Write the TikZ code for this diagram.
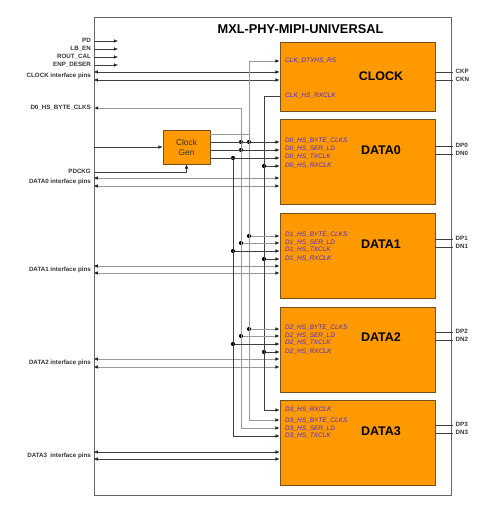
\documentclass[tikz,border=0pt]{standalone}
\usepackage{fontspec}
\setmainfont{Liberation Sans}
\usepackage{xcolor}
\usetikzlibrary{arrows.meta, positioning}

\definecolor{blkorange}{RGB}{255,153,0}
\definecolor{blkedge}{RGB}{120,80,30}
\definecolor{portblue}{RGB}{70,40,215}

\begin{document}
\begin{tikzpicture}[
    x=1pt, y=-1pt,
    >={Latex[length=4.2pt,width=3.6pt,color=black!85]},
    chipframe/.style={rectangle, draw=black!60, line width=0.8pt, inner sep=0pt, minimum width=357pt, minimum height=478pt},
    block/.style={rectangle, draw=blkedge, line width=0.7pt, fill=blkorange, minimum width=155pt, minimum height=85pt, inner sep=0pt},
    cgenbox/.style={rectangle, draw=blkedge, line width=0.7pt, fill=blkorange, minimum width=47pt, minimum height=34pt, align=center, text=black!80, font=\fontsize{8.4}{10}\selectfont},
    blkname/.style={font=\fontsize{12.5}{14}\selectfont\bfseries},
    port/.style={anchor=west, inner sep=0pt, text=portblue, font=\fontsize{6.5}{7}\selectfont\itshape, text height=4.7pt, text depth=1pt},
    pinl/.style={anchor=east, inner sep=3pt, text=black!80, font=\fontsize{6.2}{7}\selectfont\bfseries, text height=4.5pt, text depth=0.9pt},
    pinr/.style={anchor=west, inner sep=2pt, text=black!80, font=\fontsize{6.2}{7}\selectfont\bfseries, text height=4.5pt, text depth=0.9pt},
    wire/.style={draw=black!75, line width=0.6pt},
    bus/.style={draw=black!40, line width=0.9pt},
    dot/.style={circle, fill=black, inner sep=0pt, minimum size=4.2pt}
]
\useasboundingbox (0,0) rectangle (480,505);

% Frame and title
\node[chipframe] (chip) at (272.5,256.5) {};
\node[font=\fontsize{12.8}{14}\selectfont\bfseries] (title) at (300.5,29) {MXL-PHY-MIPI-UNIVERSAL};

% Lanes
\node[block, minimum height=69pt] (clock) at (357.5,76.5) {};
\node[block, below=8pt of clock] (d0) {};
\node[block, below=8pt of d0] (d1) {};
\node[block, below=8pt of d1] (d2) {};
\node[block, below=8pt of d2] (d3) {};

\node[blkname] (clockname) at ([xshift=23.5pt]clock.center) {CLOCK};
\node[blkname] (d0name) at ([xshift=23.5pt,yshift=12.5pt]d0.center) {DATA0};
\node[blkname] (d1name) at ([xshift=23.5pt,yshift=12pt]d1.center) {DATA1};
\node[blkname] (d2name) at ([xshift=23.5pt,yshift=12pt]d2.center) {DATA2};
\node[blkname] (d3name) at ([xshift=23.5pt,yshift=12pt]d3.center) {DATA3};

% Clock generator
\node[cgenbox] (cgen) at (186.5,147) {Clock\\Gen};

% Lane ports
\node[port] (pclkrs) at (285,61) {CLK\_DTXHS\_RS};
\node[port] (pclkrx) at (285,96) {CLK\_HS\_RXCLK};
\node[port] (pd0byte) at (285,140.5) {D0\_HS\_BYTE\_CLKS};
\node[port] (pd0ser) at (285,148.5) {D0\_HS\_SER\_LD};
\node[port] (pd0tx) at (285,156.5) {D0\_HS\_TXCLK};
\node[port] (pd0rx) at (285,165.5) {D0\_HS\_RXCLK};
\node[port] (pd1byte) at (285,235) {D1\_HS\_BYTE\_CLKS};
\node[port] (pd1ser) at (285,242.5) {D1\_HS\_SER\_LD};
\node[port] (pd1tx) at (285,250) {D1\_HS\_TXCLK};
\node[port] (pd1rx) at (285,258.5) {D1\_HS\_RXCLK};
\node[port] (pd2byte) at (285,328) {D2\_HS\_BYTE\_CLKS};
\node[port] (pd2ser) at (285,335.5) {D2\_HS\_SER\_LD};
\node[port] (pd2tx) at (285,343) {D2\_HS\_TXCLK};
\node[port] (pd2rx) at (285,351.5) {D2\_HS\_RXCLK};
\node[port] (pd3rx) at (285,410) {D3\_HS\_RXCLK};
\node[port] (pd3byte) at (285,421) {D3\_HS\_BYTE\_CLKS};
\node[port] (pd3ser) at (285,429) {D3\_HS\_SER\_LD};
\node[port] (pd3tx) at (285,436) {D3\_HS\_TXCLK};

% Chip pins, left
\node[pinl] (pd) at (94,41) {PD};
\node[pinl] (lben) at (94,49) {LB\_EN};
\node[pinl] (routcal) at (94,57) {ROUT\_CAL};
\node[pinl] (enpdeser) at (94,65) {ENP\_DESER};
\node[pinl] (clkpins) at (94,76) {CLOCK interface pins};
\node[pinl] (d0byte) at (94,108) {D0\_HS\_BYTE\_CLKS};
\node[pinl] (pdckg) at (94,172) {PDCKG};
\node[pinl] (d0pins) at (94,182) {DATA0 interface pins};
\node[pinl] (d1pins) at (94,270) {DATA1 interface pins};
\node[pinl] (d2pins) at (94,363) {DATA2 interface pins};
\node[pinl] (d3pins) at (94,456) {DATA3\ \ interface pins};

% Junctions and corners
\node[dot] (j0byte) at (241,142) {};
\node[dot] (j0byteb) at (249,142) {};
\node[dot] (j0ser) at (241,150) {};
\node[dot] (j0tx) at (233,158) {};
\node[dot] (j0rx) at (264,166) {};
\node[dot] (j1byte) at (249,236) {};
\node[dot] (j1ser) at (241,243) {};
\node[dot] (j1tx) at (233,251) {};
\node[dot] (j1rx) at (264,259) {};
\node[dot] (j2byte) at (249,329) {};
\node[dot] (j2ser) at (241,336) {};
\node[dot] (j2tx) at (233,344) {};
\node[dot] (j2rx) at (264,352) {};
\coordinate (crs) at (249,61);
\coordinate (crx) at (264,96);
\coordinate (c3rx) at (264,410);
\coordinate (c3byte) at (249,420);
\coordinate (c3ser) at (241,428);
\coordinate (c3tx) at (233,436);

% Control inputs
\draw[wire,->] (pd.east) -- ++(24,0);
\draw[wire,->] (lben.east) -- ++(24,0);
\draw[wire,->] (routcal.east) -- ++(24,0);
\draw[wire,->] (enpdeser.east) -- ++(24,0);

% Interface pins
\draw[wire,<->] (chip.west |- 0,72) -- (clock.west |- 0,72);
\draw[wire,<->] (chip.west |- 0,80) -- (clock.west |- 0,80);
\draw[bus,<->] (chip.west |- 0,178) -- (d0.west |- 0,178);
\draw[bus,<->] (chip.west |- 0,186) -- (d0.west |- 0,186);
\draw[bus,<->] (chip.west |- 0,266) -- (d1.west |- 0,266);
\draw[bus,<->] (chip.west |- 0,273) -- (d1.west |- 0,273);
\draw[bus,<->] (chip.west |- 0,359) -- (d2.west |- 0,359);
\draw[bus,<->] (chip.west |- 0,367) -- (d2.west |- 0,367);
\draw[wire,<->] (chip.west |- 0,452) -- (d3.west |- 0,452);
\draw[wire,<->] (chip.west |- 0,459) -- (d3.west |- 0,459);

% Clock generator in and out
\draw[wire,->] (chip.west |- cgen.west) -- (cgen.west);
\draw[wire,->] (pdckg.east) -| (cgen.south);
\draw[bus,->] ([yshift=13pt]cgen.east) -| (crs) -- (crs -| clock.west);
\draw[bus,->] (crs) -- (c3byte) -- (c3byte -| d3.west);
\draw[bus,<->] (d0byte.east) -| (c3ser) -- (c3ser -| d3.west);
\draw[wire,->] (cgen.east |- j0byte) -- (j0byte -| d0.west);
\draw[wire,->] (cgen.east |- j0ser) -- (j0ser -| d0.west);
\draw[wire,->] (cgen.east |- j0tx) -- (j0tx -| d0.west);
\draw[wire,->] (j0tx) -- (c3tx) -- (c3tx -| d3.west);

% RX clock from CLOCK lane
\draw[wire,->] (crx -| clock.west) -- (crx) -- (c3rx) -- (c3rx -| d3.west);
\draw[wire,->] (j0rx) -- (j0rx -| d0.west);

% DATA1 taps
\draw[bus,->] (j1byte) -- (j1byte -| d1.west);
\draw[bus,->] (j1ser) -- (j1ser -| d1.west);
\draw[wire,->] (j1tx) -- (j1tx -| d1.west);
\draw[wire,->] (j1rx) -- (j1rx -| d1.west);

% DATA2 taps
\draw[bus,->] (j2byte) -- (j2byte -| d2.west);
\draw[bus,->] (j2ser) -- (j2ser -| d2.west);
\draw[wire,->] (j2tx) -- (j2tx -| d2.west);
\draw[wire,->] (j2rx) -- (j2rx -| d2.west);

% Chip pins, right
\draw[wire] (clock.east |- 0,72) -- ++(18,0) node[pinr] (ckp) {CKP};
\draw[wire] (clock.east |- 0,80) -- ++(18,0) node[pinr] (ckn) {CKN};
\draw[wire] (d0.east |- 0,146) -- ++(18,0) node[pinr] (dp0) {DP0};
\draw[wire] (d0.east |- 0,154) -- ++(18,0) node[pinr] (dn0) {DN0};
\draw[wire] (d1.east |- 0,239) -- ++(18,0) node[pinr] (dp1) {DP1};
\draw[wire] (d1.east |- 0,247) -- ++(18,0) node[pinr] (dn1) {DN1};
\draw[wire] (d2.east |- 0,332) -- ++(18,0) node[pinr] (dp2) {DP2};
\draw[wire] (d2.east |- 0,340) -- ++(18,0) node[pinr] (dn2) {DN2};
\draw[wire] (d3.east |- 0,425) -- ++(18,0) node[pinr] (dp3) {DP3};
\draw[wire] (d3.east |- 0,433) -- ++(18,0) node[pinr] (dn3) {DN3};

\end{tikzpicture}
\end{document}
